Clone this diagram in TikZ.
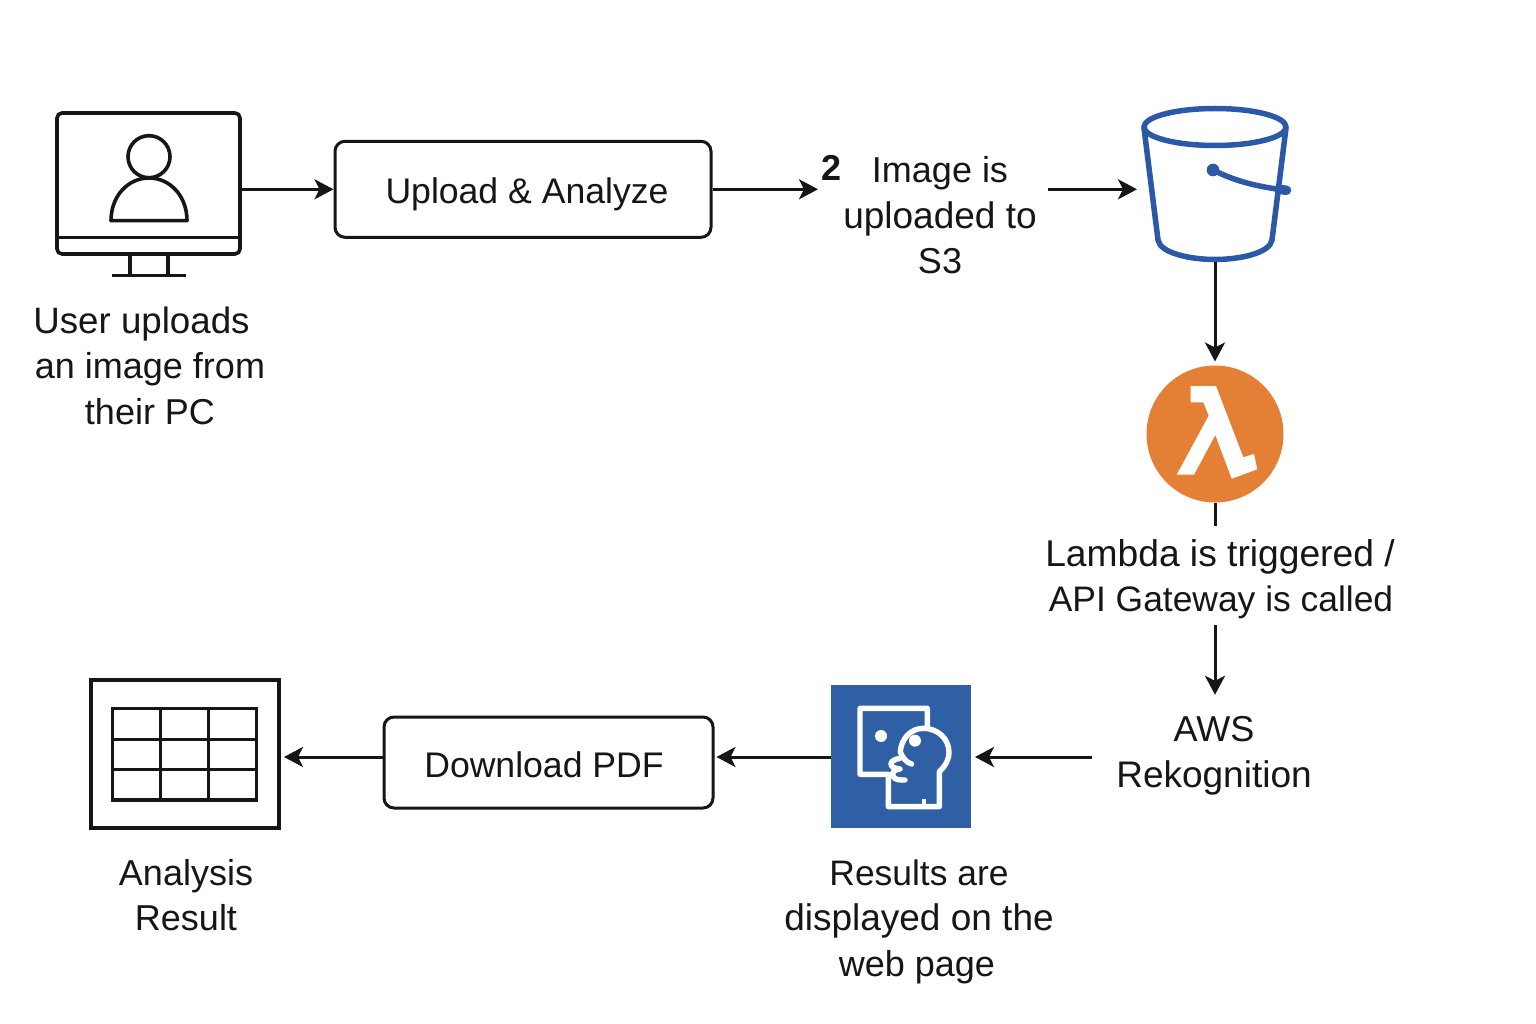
\documentclass[tikz,border=0pt]{standalone}
\usepackage{fontspec}
\setmainfont{Liberation Sans}
\usetikzlibrary{arrows.meta}
\definecolor{ink}{HTML}{161616}
\definecolor{awsblue}{HTML}{2F5FA5}
\definecolor{bucketblue}{HTML}{2B59A6}
\definecolor{lambdaorange}{HTML}{E38035}
\tikzset{
  flow/.style={draw=ink,line width=3pt,-{Stealth[length=19pt,width=20pt,inset=5pt]}},
  plainline/.style={draw=ink,line width=3pt},
  label/.style={align=center,text=ink,inner sep=0pt,font=\fontsize{36}{45.5}\selectfont},
  actionbox/.style={draw=ink,line width=3pt,rounded corners=10pt,inner sep=0pt,text=ink,font=\fontsize{35.6}{45.5}\selectfont},
  anchorbox/.style={inner sep=0pt,outer sep=0pt},
  iconline/.style={draw=ink,line width=3.6pt,line join=round,line cap=round},
  bucketline/.style={draw=bucketblue,line width=5.5pt,line join=round,line cap=round},
  faceline/.style={draw=white,line width=5.4pt,line join=round,line cap=round},
}
\begin{document}
\begin{tikzpicture}[x=1pt,y=-1pt]
\useasboundingbox[fill=white] (0,0) rectangle (1536,1024);

% monitor
\node[anchorbox,draw=ink,line width=3.6pt,rounded corners=5pt,minimum width=183pt,minimum height=141pt] (monitor) at (148.5,183.5) {};
\draw[iconline,line cap=butt] (monitor.west |- 0,237.5) -- (monitor.east |- 0,237.5);
\draw[iconline,line cap=butt] (130,254) -- (130,275) (168,254) -- (168,275);
\draw[iconline,line cap=butt] (112,275.7) -- (186,275.7);
\draw[iconline] (149,156.7) circle[radius=21];
\draw[iconline] (111,220.7) .. controls (111,196) and (128,178) .. (149,178) .. controls (170,178) and (187,196) .. (187,220.7) -- cycle;

% upload
\node[actionbox,minimum width=376pt,minimum height=96pt] (upload) at (523,189.3) {};
\node[text=ink,inner sep=0pt,font=\fontsize{35.6}{45.5}\selectfont] at (527,194) {Upload \& Analyze};

% step 2 label
\node[label,font=\fontsize{36}{45.5}\bfseries\selectfont,anchor=west,inner sep=0pt] (two) at (821,168) {2};
\node[label,minimum width=216pt] (s3text) at (940,215.5) {Image is\\{\fontsize{37}{45.5}\selectfont uploaded to}\\S3};

% bucket
\node[anchorbox,minimum width=156pt,minimum height=156pt] (bucket) at (1215,184) {};
\draw[bucketline] (1215,127) ellipse[x radius=71,y radius=18.5];
\draw[bucketline] (1144,128) -- (1158,240) .. controls (1160,253) and (1190,259.5) .. (1215,259.5) .. controls (1240,259.5) and (1270,253) .. (1272,240) -- (1286,128);
\fill[bucketblue] (1213,170) circle[radius=6.3];
\draw[bucketline,line width=5.5pt] (1213,170) .. controls (1235,181) and (1255,186) .. (1280,189.5);
\draw[bucketline,line width=9.5pt] (1279,189.3) -- (1286.5,190.3);

% lambda
\node[anchorbox,circle,fill=lambdaorange,minimum size=137pt] (lambda) at (1215,434) {};
\fill[white] (1190.7,386) -- (1216,386) -- (1243.3,457.3) -- (1254,454) -- (1257.3,469.3) -- (1231.7,478.7) -- (1215.3,435) -- (1194,474.7) -- (1176.7,474.7) -- (1208.7,415.7) -- (1203.3,402.3) -- (1190.7,402.3) -- cycle;

% rekognition label
\node[label,minimum width=244pt,minimum height=122pt] (rekog) at (1214,756) {AWS\\{\fontsize{37}{45.5}\selectfont Rekognition}};

% results icon
\node[anchorbox,fill=awsblue,minimum width=140pt,minimum height=142.5pt] (results) at (901,756.3) {};
\begin{scope}[shift={(820pt,-675pt)},x=0.3333pt,y=-0.3333pt]
  \draw[faceline] (322,152) -- (322,100) -- (120,100) -- (120,298) -- (205,298) -- (205,395) -- (358,395) -- (358,290)
    .. controls (375,275) and (387,255) .. (387,232) .. controls (387,190) and (352,160) .. (310,160)
    .. controls (270,160) and (242,195) .. (241,232) .. controls (250,250) and (258,262) .. (275,267);
  \draw[faceline] (240,250) .. controls (222,252) and (208,262) .. (214,272) .. controls (220,280) and (232,280) .. (240,282)
    .. controls (222,284) and (215,292) .. (219,303) .. controls (224,316) and (240,315) .. (255,315);
  \draw[faceline,line width=4pt,line cap=butt] (312,372) -- (312,395);
  \fill[white] (183,183) circle[radius=18];
  \fill[white] (285,197) circle[radius=18];
\end{scope}
\node[label] (resultstext) at (919,921.5) {{\fontsize{35.4}{45.5}\selectfont Results are}\\{\fontsize{37}{45.5}\selectfont displayed on the}\\web page\kern4pt};

% download
\node[actionbox,minimum width=329pt,minimum height=91pt] (download) at (548.5,762.5) {};
\node[text=ink,inner sep=0pt,font=\fontsize{35.6}{45.5}\selectfont] at (544,765) {Download PDF};

% analysis result
\node[anchorbox,draw=ink,line width=4pt,minimum width=188pt,minimum height=148pt] (analysis) at (185,754) {};
\draw[draw=ink,line width=3pt] (112.7,708.3) rectangle (256.7,800);
\draw[draw=ink,line width=3pt] (160.7,708.3) -- (160.7,800) (208.7,708.3) -- (208.7,800) (112.7,739) -- (256.7,739) (112.7,769) -- (256.7,769);
\draw[draw=ink,line width=4pt] (112.7,800) -- (256.7,800);
\node[label] (analysistext) at (186,895) {Analysis\\Result};

% user text
\node[label] (usertext) at (150,365.5) {{\fontsize{36.7}{45.5}\selectfont User uploads}\kern17pt\\an image from\\their PC};

% lambda label
\node[label,minimum width=360pt,minimum height=92pt] (lambdatext) at (1220,579) {{\fontsize{37.2}{45.5}\selectfont Lambda is triggered /}\\\kern2pt{\fontsize{35.4}{45.5}\selectfont API Gateway is called}};
\coordinate (lambdastub) at (1215,526);

% connectors
\draw[flow] (monitor.east |- upload.west) -- (upload.west);
\draw[flow] (upload.east) -- ([xshift=-3pt]upload.east -| two.west);
\draw[flow] (s3text.east |- upload.east) -- (bucket.west |- upload.east);
\draw[flow,shorten >=4pt] (bucket.south) -- (lambda.north);
\draw[plainline] (lambda.south) -- (lambdastub);
\draw[flow] (lambdatext.south -| lambdastub) -- (rekog.north -| lambdastub);
\draw[flow,shorten >=4pt] (rekog.west |- 0,757) -- (results.east |- 0,757);
\draw[flow,shorten >=2pt] (results.west |- 0,757) -- (download.east |- 0,757);
\draw[flow,shorten >=5pt] (download.west |- 0,757) -- (analysis.east |- 0,757);
\end{tikzpicture}
\end{document}
